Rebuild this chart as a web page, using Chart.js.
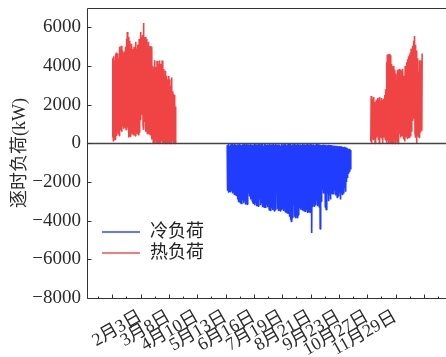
<!DOCTYPE html>
<html>
<head>
<meta charset="utf-8">
<script src="https://cdn.jsdelivr.net/npm/chart.js@4"></script>
<style>
  body { margin: 0; background: #fff; }
</style>
</head>
<body>
<canvas id="loadChart" width="446" height="357"></canvas>
<script>
// daily envelopes (kW), one low and one high per day
const heatStart1 = 0;
const heatHigh1 = [4400, 4500, 4300, 4600, 4700, 4550, 4650, 4400, 5000, 4850, 5050, 4800,
  4700, 4300, 4750, 5000, 5400, 5760, 5500, 5200, 5300, 4900, 5150, 4880, 4600, 5000, 4750,
  5250, 4900, 5100, 4850, 5400, 5200, 5760, 5500, 5600, 6230, 5400, 5500, 5200, 5400, 5100,
  5250, 4950, 5040, 4800, 5000, 4000, 3900, 4300, 3950, 3700, 4260, 3900, 4100, 4280,
  4100, 3850, 4280, 3700, 3840, 3500, 3750, 3500, 3320, 2980, 3480, 3300,
  2960, 3400, 2700, 2550, 2500, 2130, 1900];
const heatLow1 = [300, 120, 500, 200, 400, 380, 600, 500, 400, 700, 800, 600,
  900, 750, 850, 1000, 700, 900, 800, 300, 500, 350, 600,
  500, 700, 400, 600, 380, 700, 500, 600, 400, 550, 1200, 1870, 1500,
  900, 700, 1100, 600, 800, 500, 700, 600, 450, 400, 200, 300,
  0, 150, 0, 100, 0, 0, 300, 0, 200, 0, 100, 0, 0, 150, 0, 0, 100, 0, 0, 0, 50, 0, 0, 100, 0, 0, 0];

const heatStart2 = 304;
const heatHigh2 = [2450, 2300, 2200, 2400, 2150, 2100, 2250, 2200, 2350, 2300, 2400, 2200,
  2350, 2250, 2100, 2300, 2500, 2800, 4200, 4600, 4500, 4620, 4400, 4550, 4100, 3900,
  4000, 3700, 3800, 3600, 3200, 3800, 3700, 3840, 3700, 3800, 3750, 3840, 3500, 3400,
  4000, 3800, 4200, 4350, 4500, 4600, 4700, 4900, 4700, 5050, 5300, 5550, 5100, 4800,
  4400, 4100, 3700, 4300, 4100, 4300, 4650];
const heatLow2 = [100, 0, 300, 200, 500, 0, 400, 300, 550, 200, 0, 350, 450, 250, 0, 300, 400, 200,
  380, 0, 150, 0, 200, 0, 100, 0, 250, 0, 150, 0, 300, 100, 0, 200,
  500, 300, 550, 400, 600, 200, 100, 300, 400, 250, 380, 300, 450, 350,
  600, 1200, 1770, 1300, 500, 300, 0, 400, 350, 300, 600, 700, 650];

const coolStart = 135;
const coolPeak = [-2450, -2550, -2400, -2500, -2150, -2450, -2600, -2500, -2650, -2550,
  -2700, -2600, -2900, -3050, -2950, -3080, -2850, -3150, -2950, -3100,
  -3000, -3170, -3050, -3150, -1610, -2600, -2750, -2900, -2700, -3000,
  -3100, -3050, -3200, -3100, -3250, -3150, -3250, -3000, -2900, -3200,
  -3100, -3300, -3150, -3300, -3200, -3340, -3200, -3300, -3250, -3450,
  -3300, -3500, -3350, -3450, -3300, -3500, -3400, -3450, -2560, -3400,
  -3500, -3400, -3500, -3350, -3450, -3400, -3500, -3000, -3550, -3450,
  -3600, -3500, -3650, -3800, -3950, -4040, -3850, -3700, -3170, -3800,
  -3870, -3750, -3850, -3700, -3400, -3350, -3430, -3300, -3450, -3350,
  -3500, -3400, -3550, -3450, -3600, -3400, -3550, -3450, -3600, -4640,
  -3300, -3100, -3250, -2800, -3200, -3000, -3250, -3100, -3300, -4430,
  -3000, -2700, -2400, -2600, -2200, -3300, -3430, -2900, -2600, -3000,
  -2700, -2900, -2500, -2600, -2300, -2650, -2450, -2700, -2500, -2800,
  -2600, -2750, -2550, -2900, -2500, -2650, -2400, -2600, -2300, -2500,
  -2000, -1800, -1550, -1450, -1400, -1350];
const coolBase = [-100, -60, -40, -120, -50, -90, -30, -110, -70, -40,
  -80, -120, -50, -100, -60, -30, -80, -120, -50, -70,
  -40, -100, -60, -20, -90, -50, -130, -70, -40, -90,
  -60, -110, -30, -80, -50, -100, -60, -20, -110, -50,
  -80, -40, -70, -120, -30, -90, -60, -100, -50, -80,
  -20, -100, -60, -50, -120, -40, -80, -30, -70, -110,
  -50, -90, -60, -130, -40, -70, -100, -30, -80, -50,
  -110, -60, -40, -90, -20, -70, -100, -50, -70, -40,
  -120, -60, -90, -30, -100, -60, -50, -110, -80, -40,
  -90, -50, -120, -70, -30, -90, -60, -100, -40, -80,
  -60, -130, -50, -100, -70, -30, -110, -50, -90, -60,
  -100, -80, -120, -60, -90, -110, -70, -140, -100, -80,
  -120, -90, -130, -100, -150, -110, -140, -120, -160, -130,
  -150, -180, -140, -170, -200, -150, -190, -220, -180, -240,
  -220, -300, -260, -300, -280, -350];

const dateTickHours = [800, 1600, 2400, 3200, 4000, 4800, 5600, 6400, 7200, 8000];
const dateTickLabels = ['2月3日', '3月8日', '4月10日', '5月13日', '6月16日',
  '7月19日', '8月21日', '9月23日', '10月27日', '11月29日'];
const seriesNames = ['冷负荷', '热负荷'];

const serif = '"Liberation Serif", "Times New Roman", "DejaVu Serif", serif, "Noto Sans CJK SC"';
const coolColor = '#1f3cff';
const heatColor = '#f04444';

// each day becomes two hourly points: the low then the high
function dayPoints(startDay, lows, highs) {
  const pts = [];
  for (let i = 0; i < highs.length; i++) {
    const h = (startDay + i) * 24;
    pts.push({x: h + 5, y: lows[i]});
    pts.push({x: h + 15, y: highs[i]});
  }
  return pts;
}

const heatData = dayPoints(heatStart1, heatLow1, heatHigh1)
  .concat([{x: (heatStart1 + heatHigh1.length) * 24, y: null}])
  .concat(dayPoints(heatStart2, heatLow2, heatHigh2));
const coolData = dayPoints(coolStart, coolBase, coolPeak);

const xTickValues = [];
for (let v = -400; v <= 9200; v += 400) xTickValues.push(v);
const yTickValues = [];
for (let v = -8000; v <= 7000; v += 1000) yTickValues.push(v);

// inward ticks, frame, zero line and legend
const axisFrame = {
  id: 'axisFrame',
  afterDatasetsDraw(chart) {
    const {ctx, chartArea: a, scales: {x, y}} = chart;
    ctx.save();
    const y0 = Math.round(y.getPixelForValue(0)) + 0.5;
    ctx.strokeStyle = '#444';
    ctx.lineWidth = 1.5;
    ctx.beginPath(); ctx.moveTo(a.left, y0); ctx.lineTo(a.right, y0); ctx.stroke();

    ctx.strokeStyle = '#333';
    ctx.lineWidth = 1;
    const L = Math.round(a.left) + 0.5, B = Math.round(a.bottom) + 0.5, T = Math.round(a.top) + 0.5;
    ctx.beginPath();
    ctx.moveTo(a.right, T); ctx.lineTo(L, T); ctx.lineTo(L, B); ctx.lineTo(a.right, B);
    x.ticks.forEach(t => {
      const px = Math.round(x.getPixelForValue(t.value)) + 0.5;
      const len = t.value % 800 === 0 ? 4 : 2;
      ctx.moveTo(px, B); ctx.lineTo(px, B - len);
    });
    y.ticks.forEach(t => {
      const py = Math.round(y.getPixelForValue(t.value)) + 0.5;
      const len = t.value % 2000 === 0 ? 4 : 2;
      ctx.moveTo(L, py); ctx.lineTo(L + len, py);
    });
    ctx.stroke();

    // legend, lower left inside the plot
    ctx.font = '18px ' + serif;
    ctx.textBaseline = 'middle';
    ctx.fillStyle = '#222';
    chart.data.datasets.forEach((ds, i) => {
      const ly = a.bottom - 66 + i * 21;
      ctx.globalAlpha = 0.7;
      ctx.strokeStyle = ds.borderColor;
      ctx.lineWidth = 2;
      ctx.beginPath(); ctx.moveTo(a.left + 15, ly); ctx.lineTo(a.left + 53, ly); ctx.stroke();
      ctx.globalAlpha = 1;
      ctx.fillText(ds.label, a.left + 63, ly);
    });
    ctx.restore();
  }
};

new Chart(document.getElementById('loadChart'), {
  type: 'line',
  data: {
    datasets: [
      {label: seriesNames[0], data: coolData, borderColor: coolColor, backgroundColor: coolColor,
        borderWidth: 1.6, borderJoinStyle: 'bevel', pointRadius: 0, tension: 0},
      {label: seriesNames[1], data: heatData, borderColor: heatColor, backgroundColor: heatColor,
        borderWidth: 1.6, borderJoinStyle: 'bevel', pointRadius: 0, tension: 0, spanGaps: false}
    ]
  },
  options: {
    responsive: false,
    animation: false,
    layout: {padding: {top: 8, right: 0, left: 0, bottom: 0}},
    plugins: {legend: {display: false}, tooltip: {enabled: false}},
    scales: {
      x: {
        type: 'linear',
        min: -714,
        max: 9424,
        grid: {display: false, drawTicks: false},
        border: {display: false},
        afterBuildTicks: s => { s.ticks = xTickValues.map(v => ({value: v})); },
        afterFit: s => { s.height = 59; s.paddingLeft = 0; s.paddingRight = 0; },
        ticks: {
          autoSkip: false,
          minRotation: 30,
          maxRotation: 30,
          padding: 8,
          color: '#2b2b2b',
          font: {family: serif, size: 18},
          callback: v => {
            const i = dateTickHours.indexOf(v);
            return i >= 0 ? dateTickLabels[i] : '';
          }
        }
      },
      y: {
        min: -8000,
        max: 7000,
        grid: {display: false, drawTicks: false},
        border: {display: false},
        afterBuildTicks: s => { s.ticks = yTickValues.map(v => ({value: v})); },
        afterFit: s => { s.width = 87; s.paddingTop = 0; s.paddingBottom = 0; },
        title: {display: true, text: '逐时负荷(kW)', color: '#2b2b2b',
          font: {family: serif, size: 18}, padding: {top: 9, bottom: 0}},
        ticks: {
          padding: 6,
          color: '#2b2b2b',
          font: {family: serif, size: 19},
          callback: v => v % 2000 === 0 ? (v < 0 ? '\u2212' + Math.abs(v) : String(v)) : ''
        }
      }
    }
  },
  plugins: [axisFrame]
});
</script>
</body>
</html>
